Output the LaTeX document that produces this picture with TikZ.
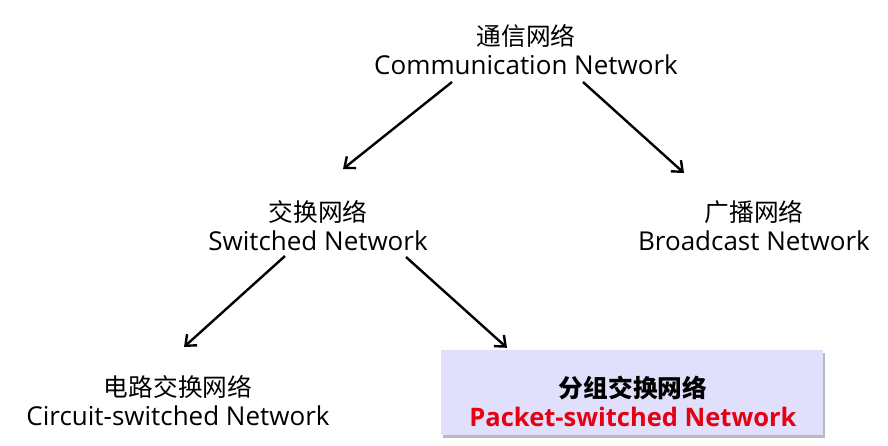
\documentclass[tikz,border=0pt]{standalone}
\usepackage{fontspec}
\setmainfont{Open Sans}
\newfontfamily\cjk{Noto Sans CJK SC}
\usetikzlibrary{arrows.meta,shadows,calc}
\definecolor{boxfill}{RGB}{224,224,252}
\definecolor{pktred}{RGB}{230,0,18}
\newcommand{\zh}[1]{{\cjk\fontsize{24.7}{29}\selectfont #1}}
\begin{document}
\begin{tikzpicture}[x=1pt,y=-1pt,
  lbl/.style={align=center, inner sep=0pt, font=\fontsize{26}{29}\selectfont},
  arr/.style={-{Straight Barb[length=9pt,width=15pt]}, line width=2.4pt},
  pbox/.style={fill=boxfill, draw=none, minimum width=382pt, minimum height=85pt, inner sep=0pt,
    drop shadow={shadow xshift=2pt, shadow yshift=-3pt, fill=black!45, opacity=0.6}}]
\useasboundingbox (0,0) rectangle (888,445);
\node[lbl] (comm) at (526,49.5) {\zh{通信网络}\\Communication Network};
\node[lbl] (sw) at (318,225.5) {\zh{交换网络}\\Switched Network};
\node[lbl] (bc) at (754,225.5) {\zh{广播网络}\\Broadcast Network};
\node[lbl] (cs) at (178,400.5) {\zh{电路交换网络}\\Circuit-switched Network};
\node[pbox] (pktbox) at (632,392.5) {};
\node[lbl, font=\fontsize{25.5}{29}\selectfont\bfseries] (pkt) at (633,401.5) {\zh{\bfseries 分组交换网络}\\\textcolor{pktred}{Packet-switched Network}};
\draw[arr] ($(comm)+(-74,32.5)$) -- ($(sw)+(25,-56.5)$);
\draw[arr] ($(comm)+(57,32.5)$) -- ($(bc)+(-70,-52.5)$);
\draw[arr] ($(sw)+(-33,30.5)$) -- ($(cs)+(6,-53.5)$);
\draw[arr] ($(sw)+(88,31.5)$) -- ($(pktbox.north)+(-125,-2)$);
\end{tikzpicture}
\end{document}
